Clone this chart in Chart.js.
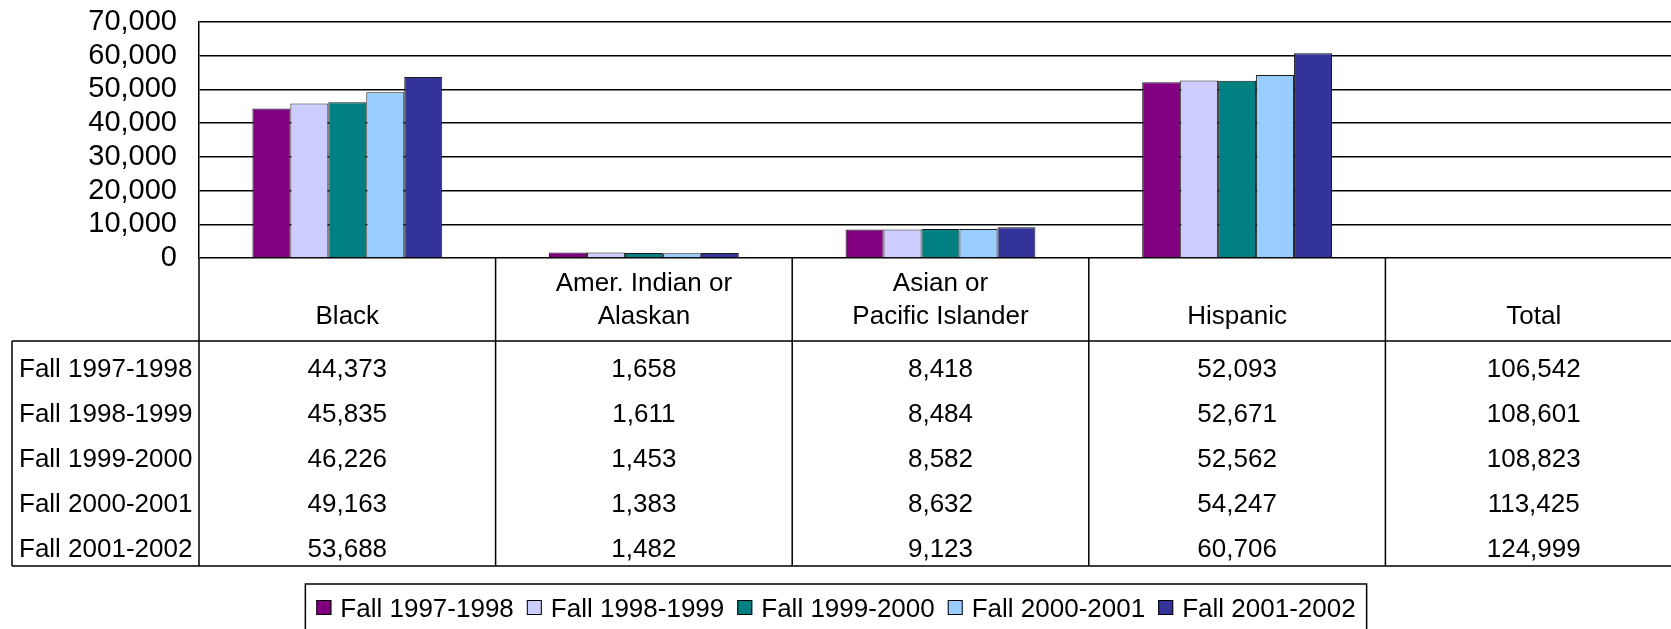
<!DOCTYPE html>
<html><head><meta charset="utf-8">
<script src="https://cdn.jsdelivr.net/npm/chart.js@4"></script>
<style>
html,body{margin:0;padding:0;background:#fff;overflow:hidden;width:1671px;height:629px}
#wrap{width:1700px;height:629px}
</style></head>
<body><div id="wrap"><canvas id="c" width="1700" height="629"></canvas></div>
<script>
// ---- data ----
const categories = [['Black'], ['Amer. Indian or', 'Alaskan'], ['Asian or', 'Pacific Islander'], ['Hispanic'], ['Total']];
const seriesLabels = ['Fall 1997-1998', 'Fall 1998-1999', 'Fall 1999-2000', 'Fall 2000-2001', 'Fall 2001-2002'];
const fall1997 = [44373, 1658, 8418, 52093, 106542];
const fall1998 = [45835, 1611, 8484, 52671, 108601];
const fall1999 = [46226, 1453, 8582, 52562, 108823];
const fall2000 = [49163, 1383, 8632, 54247, 113425];
const fall2001 = [53688, 1482, 9123, 60706, 124999];
const yTicks = [0, 10000, 20000, 30000, 40000, 50000, 60000, 70000];
const barlessCategory = 'Total';
const seriesColors = ['#800080', '#CCCCFF', '#008080', '#99CCFF', '#333399'];

const seriesValues = [fall1997, fall1998, fall1999, fall2000, fall2001];
const catNames = categories.map(c => c.join(' '));
const FONT = '"Liberation Sans", Arial, sans-serif';
const fmt = v => v.toLocaleString('en-US');

const tablePlugin = {
  id: 'dataTable',
  afterDraw(chart) {
    const {ctx, chartArea: ca, scales: {x}} = chart;
    const colW = ca.width / categories.length;
    const headerBottom = ca.bottom + 83;
    const rowH = 45;
    const tableBottom = headerBottom + rowH * seriesValues.length;
    const tableLeft = 12;
    ctx.save();
    ctx.strokeStyle = '#000';
    ctx.lineWidth = 1.5;
    ctx.beginPath();
    ctx.moveTo(ca.left, ca.bottom); ctx.lineTo(ca.left, tableBottom);
    for (let i = 1; i <= categories.length; i++) {
      const xx = ca.left + colW * i;
      ctx.moveTo(xx, ca.bottom); ctx.lineTo(xx, tableBottom);
    }
    ctx.moveTo(tableLeft, headerBottom); ctx.lineTo(ca.right + 20, headerBottom);
    ctx.moveTo(tableLeft, tableBottom); ctx.lineTo(ca.right + 20, tableBottom);
    ctx.moveTo(tableLeft, headerBottom); ctx.lineTo(tableLeft, tableBottom);
    ctx.stroke();

    ctx.fillStyle = '#000';
    ctx.font = '26px ' + FONT;
    ctx.textBaseline = 'alphabetic';
    ctx.textAlign = 'center';
    categories.forEach((lines, i) => {
      const cx = x.getPixelForValue(i);
      lines.forEach((t, k) => ctx.fillText(t, cx, ca.bottom + 65.5 - (lines.length - 1 - k) * 33));
    });
    seriesValues.forEach((vals, r) => {
      const base = headerBottom + rowH * r + 36;
      ctx.textAlign = 'left';
      ctx.fillText(seriesLabels[r], tableLeft + 7, base);
      ctx.textAlign = 'center';
      vals.forEach((v, i) => ctx.fillText(fmt(v), x.getPixelForValue(i), base));
    });

    // legend
    const ds = chart.data.datasets;
    const box = 15, gapText = 9, gapItem = 13, padX = 11;
    const widths = ds.map(d => ctx.measureText(d.label).width);
    const total = widths.reduce((a, w) => a + box + gapText + w, 0) + gapItem * (ds.length - 1);
    const boxW = total + padX * 2;
    const legLeft = 836 - boxW / 2;
    const legTop = tableBottom + 18;
    ctx.lineWidth = 1.5;
    ctx.strokeRect(legLeft, legTop, boxW, 80);
    let cx = legLeft + padX;
    ctx.textAlign = 'left';
    ds.forEach((d, i) => {
      ctx.fillStyle = d.backgroundColor;
      ctx.fillRect(cx, legTop + 16, box, box);
      ctx.lineWidth = 1;
      ctx.strokeStyle = '#000';
      ctx.strokeRect(cx + 0.5, legTop + 16.5, box - 1, box - 1);
      ctx.fillStyle = '#000';
      ctx.fillText(d.label, cx + box + gapText, legTop + 33);
      cx += box + gapText + widths[i] + gapItem;
    });
    ctx.restore();
  }
};

new Chart(document.getElementById('c'), {
  type: 'bar',
  data: {
    labels: catNames,
    datasets: seriesValues.map((vals, s) => ({
      label: seriesLabels[s],
      data: vals.map((v, i) => catNames[i] === barlessCategory ? null : v),
      backgroundColor: seriesColors[s],
      borderColor: '#1a1a1a',
      borderWidth: 1,
      barPercentage: 1,
      categoryPercentage: 0.64
    }))
  },
  options: {
    responsive: false,
    animation: false,
    layout: {padding: {top: 22, bottom: 371, left: 0, right: 18}},
    plugins: {legend: {display: false}, tooltip: {enabled: false}},
    scales: {
      x: {display: false},
      y: {
        min: 0, max: 70000,
        afterFit: s => { s.width = 199; s.paddingTop = 0; s.paddingBottom = 0; },
        afterBuildTicks: s => { s.ticks = yTicks.map(v => ({value: v})); },
        grid: {color: '#000', lineWidth: 1.5, drawTicks: false},
        border: {display: true, color: '#000', width: 1.5},
        ticks: {
          autoSkip: false, padding: 22, color: '#000',
          font: {family: FONT, size: 29},
          callback: v => fmt(v)
        }
      }
    }
  },
  plugins: [tablePlugin]
});
</script>
</body></html>
